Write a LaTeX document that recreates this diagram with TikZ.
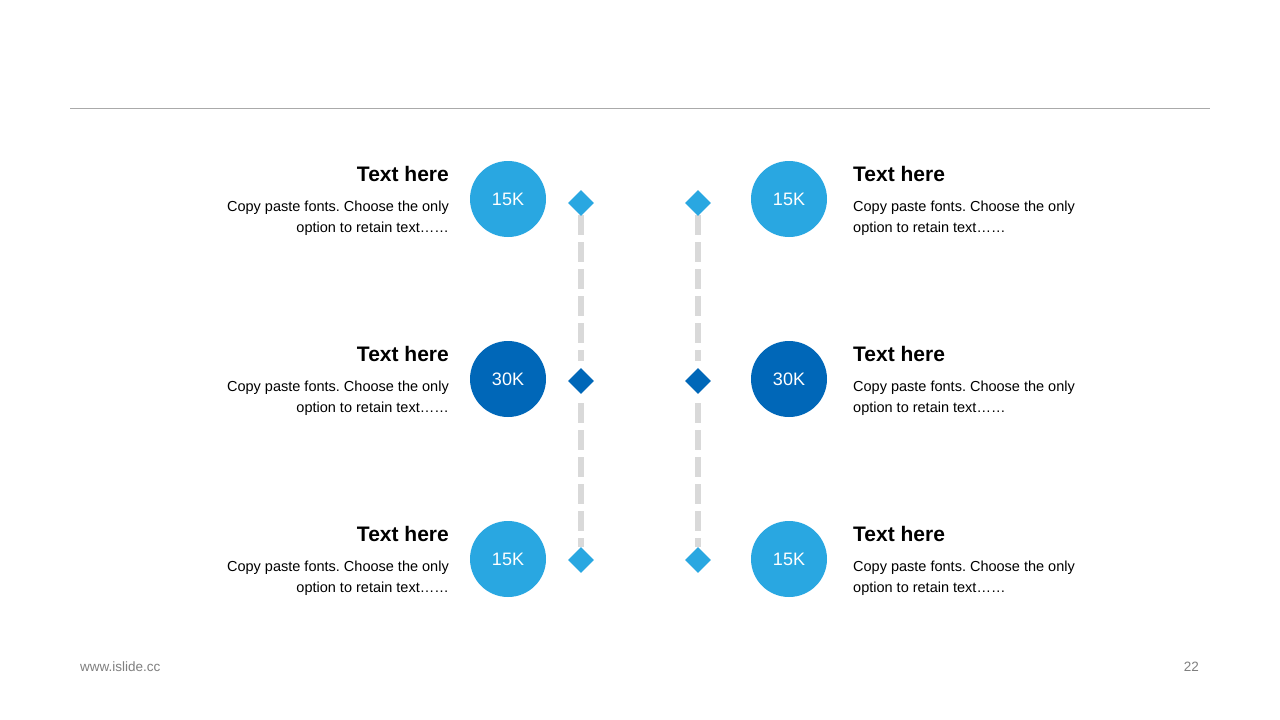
\documentclass[tikz,border=0pt]{standalone}
\usepackage{fontspec}
\setmainfont{Liberation Sans}
\usetikzlibrary{shapes.geometric}
\definecolor{lblue}{RGB}{41,167,225}
\definecolor{dblue}{RGB}{0,103,184}
\definecolor{dashgray}{RGB}{217,217,217}
\definecolor{rulegray}{RGB}{170,170,170}
\definecolor{footgray}{RGB}{127,127,127}
\begin{document}
\frenchspacing
\begin{tikzpicture}[x=1pt,y=-1pt,
  bubble/.style={circle,minimum size=76pt,inner sep=0pt,text=white,font=\fontsize{18pt}{20pt}\selectfont},
  marker/.style={diamond,minimum width=26pt,minimum height=26pt,inner sep=0pt},
  headl/.style={inner sep=0pt,font=\fontsize{21pt}{24pt}\selectfont\bfseries},
  bodyl/.style={inner sep=0pt,font=\fontsize{14.5pt}{21pt}\selectfont},
  foot/.style={inner sep=0pt,text=footgray,font=\fontsize{13.5pt}{15pt}\selectfont},
  dashline/.style={dashgray,line width=6.5pt,dash pattern=on 20pt off 7pt}]
\useasboundingbox (0,0) rectangle (1280,720);
\fill[white] (0,0) rectangle (1280,720);
\coordinate (r1) at (70,108);
\coordinate (r2) at (1210,108);
\draw[rulegray,line width=0.8pt] (r1) -- (r2);
% dashed guides
\coordinate (lt1) at (581,215);
\coordinate (lt2) at (581,361);
\coordinate (lb1) at (581,403);
\coordinate (lb2) at (581,547);
\coordinate (rt1) at (698,215);
\coordinate (rt2) at (698,361);
\coordinate (rb1) at (698,403);
\coordinate (rb2) at (698,547);
\draw[dashline] (lt1) -- (lt2);
\draw[dashline] (lb1) -- (lb2);
\draw[dashline] (rt1) -- (rt2);
\draw[dashline] (rb1) -- (rb2);
% diamonds
\node[marker,fill=lblue] (dl1) at (581,203) {};
\node[marker,fill=dblue] (dl2) at (581,381) {};
\node[marker,fill=lblue] (dl3) at (581,560) {};
\node[marker,fill=lblue] (dr1) at (698,203) {};
\node[marker,fill=dblue] (dr2) at (698,381) {};
\node[marker,fill=lblue] (dr3) at (698,560) {};
% circles
\node[bubble,fill=lblue] (cl1) at (508,199) {15K};
\node[bubble,fill=dblue] (cl2) at (508,379) {30K};
\node[bubble,fill=lblue] (cl3) at (508,559) {15K};
\node[bubble,fill=lblue] (cr1) at (789,199) {15K};
\node[bubble,fill=dblue] (cr2) at (789,379) {30K};
\node[bubble,fill=lblue] (cr3) at (789,559) {15K};
% texts
\foreach \y [count=\i] in {0,180,360}{
  \node[headl,anchor=base east] (hl\i) at (449,181+\y) {Text here};
  \node[bodyl,anchor=base east] (bla\i) at (449,211+\y) {Copy paste fonts. Choose the only};
  \node[bodyl,anchor=base east] (blb\i) at (449,232+\y) {option to retain text……};
  \node[headl,anchor=base west] (hr\i) at (853,181+\y) {Text here};
  \node[bodyl,anchor=base west] (bra\i) at (853,211+\y) {Copy paste fonts. Choose the only};
  \node[bodyl,anchor=base west] (brb\i) at (853,232+\y) {option to retain text……};
}
\node[foot,anchor=base west] (url) at (80,671) {www.islide.cc};
\node[foot,anchor=base east] (pg) at (1199,671) {22};
\end{tikzpicture}
\end{document}
